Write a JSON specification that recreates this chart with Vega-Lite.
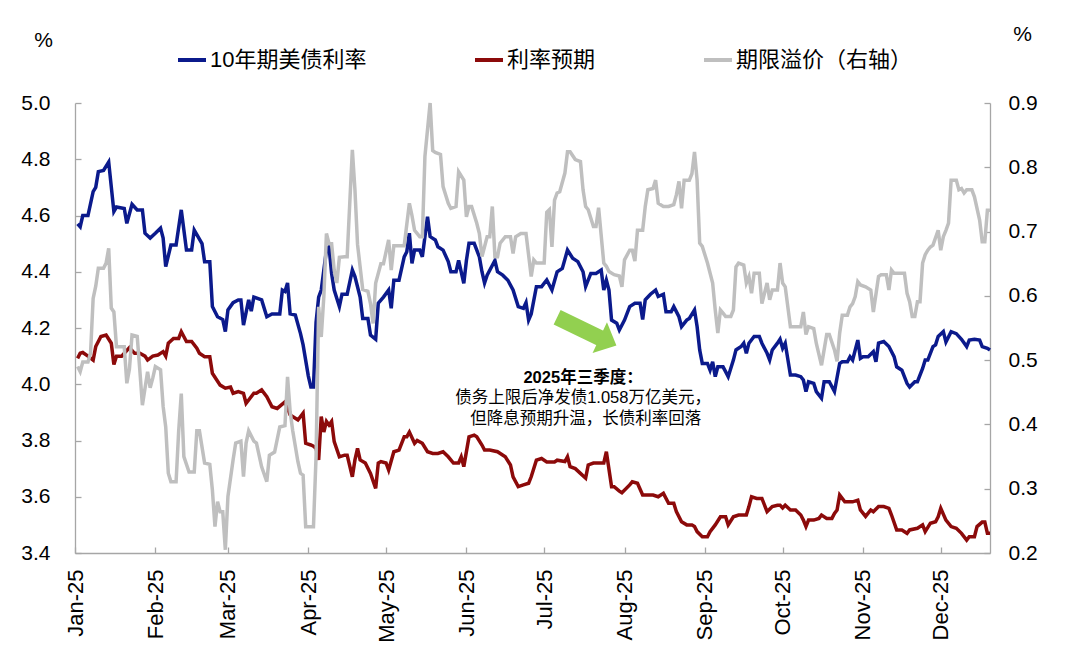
{
"$schema": "https://vega.github.io/schema/vega-lite/v6.json",
"width": 915,
"height": 450,
"autosize": {"type": "none"},
"padding": {"left": 75, "top": 103, "right": 90, "bottom": 100},
"background": "white",
"config": {
  "font": "Liberation Sans, Noto Sans CJK SC",
  "view": {"stroke": null},
  "axis": {"domainColor": "#A6A6A6", "domainWidth": 1.3, "tickColor": "#A6A6A6", "tickWidth": 1.3, "tickSize": -6, "grid": false, "labelColor": "#000000", "labelFont": "Liberation Sans", "titleFont": "Liberation Sans", "titleColor": "#000000", "titleFontWeight": "normal"}
},
"datasets": {
"y10": [
{"d":"2025-01-02","v":4.57},{"d":"2025-01-03","v":4.56},{"d":"2025-01-04","v":4.60},{"d":"2025-01-06","v":4.60},{"d":"2025-01-08","v":4.685},{"d":"2025-01-09","v":4.70},{"d":"2025-01-10","v":4.756},{"d":"2025-01-12","v":4.76},{"d":"2025-01-14","v":4.79},{"d":"2025-01-16","v":4.614},{"d":"2025-01-17","v":4.63},{"d":"2025-01-20","v":4.625},{"d":"2025-01-21","v":4.572},{"d":"2025-01-23","v":4.64},{"d":"2025-01-25","v":4.62},{"d":"2025-01-27","v":4.62},{"d":"2025-01-28","v":4.537},{"d":"2025-01-30","v":4.52},
{"d":"2025-02-01","v":4.537},{"d":"2025-02-03","v":4.555},{"d":"2025-02-04","v":4.52},{"d":"2025-02-05","v":4.418},{"d":"2025-02-07","v":4.495},{"d":"2025-02-09","v":4.495},{"d":"2025-02-11","v":4.62},{"d":"2025-02-13","v":4.477},{"d":"2025-02-15","v":4.477},{"d":"2025-02-16","v":4.548},{"d":"2025-02-19","v":4.50},{"d":"2025-02-20","v":4.436},{"d":"2025-02-22","v":4.436},{"d":"2025-02-23","v":4.276},{"d":"2025-02-25","v":4.24},{"d":"2025-02-27","v":4.23},{"d":"2025-02-28","v":4.187},
{"d":"2025-03-01","v":4.264},{"d":"2025-03-03","v":4.29},{"d":"2025-03-05","v":4.30},{"d":"2025-03-06","v":4.30},{"d":"2025-03-07","v":4.21},{"d":"2025-03-09","v":4.30},{"d":"2025-03-10","v":4.26},{"d":"2025-03-11","v":4.31},{"d":"2025-03-14","v":4.30},{"d":"2025-03-16","v":4.24},{"d":"2025-03-18","v":4.25},{"d":"2025-03-21","v":4.25},{"d":"2025-03-22","v":4.335},{"d":"2025-03-23","v":4.33},{"d":"2025-03-24","v":4.36},{"d":"2025-03-25","v":4.25},{"d":"2025-03-27","v":4.246},{"d":"2025-03-29","v":4.18},{"d":"2025-03-30","v":4.14},
{"d":"2025-04-01","v":4.03},{"d":"2025-04-02","v":3.99},{"d":"2025-04-03","v":3.99},{"d":"2025-04-04","v":4.22},{"d":"2025-04-05","v":4.31},{"d":"2025-04-06","v":4.335},{"d":"2025-04-08","v":4.477},{"d":"2025-04-09","v":4.489},{"d":"2025-04-10","v":4.394},{"d":"2025-04-11","v":4.335},{"d":"2025-04-13","v":4.276},{"d":"2025-04-14","v":4.32},{"d":"2025-04-16","v":4.32},{"d":"2025-04-18","v":4.406},{"d":"2025-04-19","v":4.383},{"d":"2025-04-21","v":4.31},{"d":"2025-04-22","v":4.234},{"d":"2025-04-24","v":4.234},{"d":"2025-04-25","v":4.175},{"d":"2025-04-27","v":4.16},{"d":"2025-04-28","v":4.288},{"d":"2025-04-30","v":4.31},
{"d":"2025-05-02","v":4.335},{"d":"2025-05-03","v":4.27},{"d":"2025-05-04","v":4.37},{"d":"2025-05-06","v":4.37},{"d":"2025-05-08","v":4.453},{"d":"2025-05-09","v":4.471},{"d":"2025-05-10","v":4.537},{"d":"2025-05-11","v":4.43},{"d":"2025-05-12","v":4.477},{"d":"2025-05-14","v":4.477},{"d":"2025-05-15","v":4.453},{"d":"2025-05-17","v":4.596},{"d":"2025-05-18","v":4.525},{"d":"2025-05-20","v":4.513},{"d":"2025-05-21","v":4.489},{"d":"2025-05-23","v":4.477},{"d":"2025-05-25","v":4.436},{"d":"2025-05-26","v":4.40},{"d":"2025-05-28","v":4.40},{"d":"2025-05-29","v":4.44},{"d":"2025-05-31","v":4.359},
{"d":"2025-06-01","v":4.44},{"d":"2025-06-02","v":4.501},{"d":"2025-06-04","v":4.501},{"d":"2025-06-06","v":4.453},{"d":"2025-06-07","v":4.40},{"d":"2025-06-08","v":4.36},{"d":"2025-06-09","v":4.388},{"d":"2025-06-12","v":4.44},{"d":"2025-06-13","v":4.40},{"d":"2025-06-15","v":4.388},{"d":"2025-06-17","v":4.37},{"d":"2025-06-19","v":4.335},{"d":"2025-06-21","v":4.276},{"d":"2025-06-23","v":4.27},{"d":"2025-06-24","v":4.29},{"d":"2025-06-25","v":4.228},{"d":"2025-06-26","v":4.25},{"d":"2025-06-28","v":4.347},{"d":"2025-06-30","v":4.347},
{"d":"2025-07-02","v":4.371},{"d":"2025-07-04","v":4.335},{"d":"2025-07-06","v":4.40},{"d":"2025-07-08","v":4.412},{"d":"2025-07-10","v":4.477},{"d":"2025-07-12","v":4.448},{"d":"2025-07-14","v":4.436},{"d":"2025-07-16","v":4.40},{"d":"2025-07-17","v":4.347},{"d":"2025-07-19","v":4.394},{"d":"2025-07-21","v":4.394},{"d":"2025-07-23","v":4.406},{"d":"2025-07-24","v":4.335},{"d":"2025-07-25","v":4.37},{"d":"2025-07-26","v":4.335},{"d":"2025-07-27","v":4.228},{"d":"2025-07-29","v":4.217},{"d":"2025-07-30","v":4.193},
{"d":"2025-08-01","v":4.228},{"d":"2025-08-03","v":4.276},{"d":"2025-08-05","v":4.288},{"d":"2025-08-07","v":4.288},{"d":"2025-08-08","v":4.23},{"d":"2025-08-09","v":4.30},{"d":"2025-08-11","v":4.32},{"d":"2025-08-13","v":4.335},{"d":"2025-08-14","v":4.312},{"d":"2025-08-16","v":4.32},{"d":"2025-08-17","v":4.258},{"d":"2025-08-19","v":4.258},{"d":"2025-08-20","v":4.276},{"d":"2025-08-22","v":4.24},{"d":"2025-08-23","v":4.205},{"d":"2025-08-25","v":4.228},{"d":"2025-08-26","v":4.234},{"d":"2025-08-28","v":4.264},{"d":"2025-08-29","v":4.205},{"d":"2025-08-30","v":4.122},{"d":"2025-08-31","v":4.074},
{"d":"2025-09-02","v":4.074},{"d":"2025-09-03","v":4.05},{"d":"2025-09-04","v":4.08},{"d":"2025-09-05","v":4.027},{"d":"2025-09-06","v":4.062},{"d":"2025-09-08","v":4.062},{"d":"2025-09-09","v":4.045},{"d":"2025-09-10","v":4.027},{"d":"2025-09-12","v":4.086},{"d":"2025-09-13","v":4.122},{"d":"2025-09-15","v":4.134},{"d":"2025-09-16","v":4.146},{"d":"2025-09-17","v":4.11},{"d":"2025-09-18","v":4.146},{"d":"2025-09-20","v":4.17},{"d":"2025-09-22","v":4.17},{"d":"2025-09-23","v":4.146},{"d":"2025-09-25","v":4.11},{"d":"2025-09-26","v":4.086},{"d":"2025-09-27","v":4.122},{"d":"2025-09-29","v":4.146},{"d":"2025-09-30","v":4.16},
{"d":"2025-10-01","v":4.128},{"d":"2025-10-02","v":4.146},{"d":"2025-10-04","v":4.033},{"d":"2025-10-06","v":4.033},{"d":"2025-10-08","v":4.027},{"d":"2025-10-09","v":4.015},{"d":"2025-10-10","v":3.974},{"d":"2025-10-11","v":4.009},{"d":"2025-10-13","v":4.003},{"d":"2025-10-14","v":3.974},{"d":"2025-10-16","v":3.95},{"d":"2025-10-17","v":4.009},{"d":"2025-10-19","v":4.009},{"d":"2025-10-21","v":3.974},{"d":"2025-10-23","v":4.074},{"d":"2025-10-24","v":4.08},{"d":"2025-10-26","v":4.08},{"d":"2025-10-27","v":4.098},{"d":"2025-10-28","v":4.086},{"d":"2025-10-30","v":4.157},{"d":"2025-10-31","v":4.092},
{"d":"2025-11-01","v":4.098},{"d":"2025-11-03","v":4.098},{"d":"2025-11-05","v":4.116},{"d":"2025-11-06","v":4.08},{"d":"2025-11-07","v":4.146},{"d":"2025-11-09","v":4.152},{"d":"2025-11-11","v":4.134},{"d":"2025-11-13","v":4.098},{"d":"2025-11-14","v":4.062},{"d":"2025-11-16","v":4.05},{"d":"2025-11-18","v":4.003},{"d":"2025-11-19","v":3.99},{"d":"2025-11-21","v":4.009},{"d":"2025-11-22","v":4.009},{"d":"2025-11-24","v":4.056},{"d":"2025-11-25","v":4.086},{"d":"2025-11-26","v":4.086},{"d":"2025-11-28","v":4.134},{"d":"2025-11-29","v":4.14},{"d":"2025-11-30","v":4.17},
{"d":"2025-12-02","v":4.187},{"d":"2025-12-03","v":4.15},{"d":"2025-12-05","v":4.187},{"d":"2025-12-07","v":4.18},{"d":"2025-12-09","v":4.16},{"d":"2025-12-11","v":4.134},{"d":"2025-12-12","v":4.157},{"d":"2025-12-14","v":4.16},{"d":"2025-12-16","v":4.157},{"d":"2025-12-17","v":4.134},{"d":"2025-12-19","v":4.128},{"d":"2025-12-20","v":4.122}
],
"exp": [
{"d":"2025-01-02","v":4.092},{"d":"2025-01-03","v":4.11},{"d":"2025-01-04","v":4.113},{"d":"2025-01-06","v":4.10},{"d":"2025-01-08","v":4.086},{"d":"2025-01-09","v":4.134},{"d":"2025-01-11","v":4.17},{"d":"2025-01-13","v":4.175},{"d":"2025-01-15","v":4.146},{"d":"2025-01-16","v":4.07},{"d":"2025-01-17","v":4.10},{"d":"2025-01-19","v":4.10},{"d":"2025-01-22","v":4.13},{"d":"2025-01-24","v":4.11},{"d":"2025-01-26","v":4.11},{"d":"2025-01-28","v":4.10},{"d":"2025-01-29","v":4.086},{"d":"2025-01-31","v":4.10},
{"d":"2025-02-02","v":4.104},{"d":"2025-02-04","v":4.116},{"d":"2025-02-05","v":4.10},{"d":"2025-02-06","v":4.146},{"d":"2025-02-08","v":4.163},{"d":"2025-02-10","v":4.163},{"d":"2025-02-11","v":4.187},{"d":"2025-02-13","v":4.152},{"d":"2025-02-15","v":4.152},{"d":"2025-02-17","v":4.128},{"d":"2025-02-18","v":4.11},{"d":"2025-02-20","v":4.098},{"d":"2025-02-22","v":4.098},{"d":"2025-02-23","v":4.039},{"d":"2025-02-26","v":3.997},{"d":"2025-02-28","v":3.986},
{"d":"2025-03-02","v":3.99},{"d":"2025-03-03","v":3.968},{"d":"2025-03-05","v":3.974},{"d":"2025-03-07","v":3.968},{"d":"2025-03-08","v":3.932},{"d":"2025-03-09","v":3.944},{"d":"2025-03-11","v":3.968},{"d":"2025-03-12","v":3.968},{"d":"2025-03-14","v":3.98},{"d":"2025-03-16","v":3.956},{"d":"2025-03-18","v":3.92},{"d":"2025-03-20","v":3.914},{"d":"2025-03-23","v":3.937},{"d":"2025-03-25","v":3.891},{"d":"2025-03-27","v":3.879},{"d":"2025-03-28","v":3.873},{"d":"2025-03-30","v":3.897},{"d":"2025-03-31","v":3.79},
{"d":"2025-04-02","v":3.784},{"d":"2025-04-03","v":3.78},{"d":"2025-04-04","v":3.772},{"d":"2025-04-05","v":3.731},{"d":"2025-04-06","v":3.885},{"d":"2025-04-07","v":3.83},{"d":"2025-04-08","v":3.868},{"d":"2025-04-09","v":3.855},{"d":"2025-04-10","v":3.868},{"d":"2025-04-11","v":3.796},{"d":"2025-04-13","v":3.742},{"d":"2025-04-15","v":3.748},{"d":"2025-04-16","v":3.748},{"d":"2025-04-18","v":3.671},{"d":"2025-04-19","v":3.731},{"d":"2025-04-20","v":3.772},{"d":"2025-04-21","v":3.731},{"d":"2025-04-23","v":3.72},{"d":"2025-04-25","v":3.683},{"d":"2025-04-27","v":3.63},{"d":"2025-04-28","v":3.72},{"d":"2025-04-29","v":3.725},
{"d":"2025-05-01","v":3.72},{"d":"2025-05-02","v":3.695},{"d":"2025-05-04","v":3.76},{"d":"2025-05-06","v":3.766},{"d":"2025-05-08","v":3.813},{"d":"2025-05-09","v":3.813},{"d":"2025-05-10","v":3.83},{"d":"2025-05-12","v":3.79},{"d":"2025-05-13","v":3.80},{"d":"2025-05-15","v":3.79},{"d":"2025-05-17","v":3.76},{"d":"2025-05-19","v":3.754},{"d":"2025-05-21","v":3.754},{"d":"2025-05-23","v":3.76},{"d":"2025-05-25","v":3.742},{"d":"2025-05-27","v":3.72},{"d":"2025-05-29","v":3.72},{"d":"2025-05-30","v":3.742},{"d":"2025-05-31","v":3.707},
{"d":"2025-06-02","v":3.813},{"d":"2025-06-04","v":3.819},{"d":"2025-06-05","v":3.813},{"d":"2025-06-07","v":3.784},{"d":"2025-06-08","v":3.766},{"d":"2025-06-10","v":3.766},{"d":"2025-06-13","v":3.76},{"d":"2025-06-16","v":3.742},{"d":"2025-06-18","v":3.713},{"d":"2025-06-19","v":3.671},{"d":"2025-06-21","v":3.636},{"d":"2025-06-23","v":3.642},{"d":"2025-06-25","v":3.648},{"d":"2025-06-26","v":3.671},{"d":"2025-06-28","v":3.73},{"d":"2025-06-30","v":3.736},
{"d":"2025-07-02","v":3.724},{"d":"2025-07-05","v":3.724},{"d":"2025-07-06","v":3.73},{"d":"2025-07-09","v":3.725},{"d":"2025-07-10","v":3.742},{"d":"2025-07-11","v":3.707},{"d":"2025-07-13","v":3.70},{"d":"2025-07-15","v":3.683},{"d":"2025-07-17","v":3.666},{"d":"2025-07-18","v":3.713},{"d":"2025-07-20","v":3.72},{"d":"2025-07-22","v":3.72},{"d":"2025-07-24","v":3.72},{"d":"2025-07-25","v":3.76},{"d":"2025-07-27","v":3.636},{"d":"2025-07-28","v":3.636},{"d":"2025-07-30","v":3.62},{"d":"2025-07-31","v":3.614},
{"d":"2025-08-03","v":3.642},{"d":"2025-08-04","v":3.653},{"d":"2025-08-06","v":3.648},{"d":"2025-08-08","v":3.606},{"d":"2025-08-10","v":3.606},{"d":"2025-08-12","v":3.606},{"d":"2025-08-14","v":3.60},{"d":"2025-08-16","v":3.612},{"d":"2025-08-18","v":3.577},{"d":"2025-08-20","v":3.577},{"d":"2025-08-21","v":3.547},{"d":"2025-08-23","v":3.511},{"d":"2025-08-25","v":3.50},{"d":"2025-08-27","v":3.50},{"d":"2025-08-28","v":3.494},{"d":"2025-08-29","v":3.476},{"d":"2025-08-31","v":3.458},
{"d":"2025-09-02","v":3.458},{"d":"2025-09-03","v":3.476},{"d":"2025-09-05","v":3.50},{"d":"2025-09-07","v":3.529},{"d":"2025-09-09","v":3.529},{"d":"2025-09-10","v":3.50},{"d":"2025-09-12","v":3.529},{"d":"2025-09-14","v":3.535},{"d":"2025-09-17","v":3.535},{"d":"2025-09-18","v":3.565},{"d":"2025-09-19","v":3.60},{"d":"2025-09-21","v":3.594},{"d":"2025-09-23","v":3.594},{"d":"2025-09-25","v":3.547},{"d":"2025-09-27","v":3.565},{"d":"2025-09-29","v":3.57},{"d":"2025-09-30","v":3.57},
{"d":"2025-10-01","v":3.56},{"d":"2025-10-02","v":3.57},{"d":"2025-10-04","v":3.553},{"d":"2025-10-06","v":3.553},{"d":"2025-10-08","v":3.535},{"d":"2025-10-09","v":3.517},{"d":"2025-10-10","v":3.494},{"d":"2025-10-11","v":3.517},{"d":"2025-10-13","v":3.517},{"d":"2025-10-15","v":3.523},{"d":"2025-10-16","v":3.535},{"d":"2025-10-18","v":3.523},{"d":"2025-10-20","v":3.523},{"d":"2025-10-21","v":3.541},{"d":"2025-10-22","v":3.553},{"d":"2025-10-23","v":3.606},{"d":"2025-10-25","v":3.582},{"d":"2025-10-28","v":3.582},{"d":"2025-10-30","v":3.588},{"d":"2025-10-31","v":3.553},
{"d":"2025-11-02","v":3.53},{"d":"2025-11-04","v":3.553},{"d":"2025-11-05","v":3.547},{"d":"2025-11-07","v":3.565},{"d":"2025-11-09","v":3.565},{"d":"2025-11-11","v":3.559},{"d":"2025-11-12","v":3.535},{"d":"2025-11-14","v":3.482},{"d":"2025-11-16","v":3.482},{"d":"2025-11-18","v":3.47},{"d":"2025-11-19","v":3.482},{"d":"2025-11-22","v":3.488},{"d":"2025-11-24","v":3.50},{"d":"2025-11-25","v":3.476},{"d":"2025-11-27","v":3.506},{"d":"2025-11-29","v":3.511},{"d":"2025-11-30","v":3.529},
{"d":"2025-12-01","v":3.559},{"d":"2025-12-03","v":3.517},{"d":"2025-12-05","v":3.494},{"d":"2025-12-07","v":3.488},{"d":"2025-12-09","v":3.47},{"d":"2025-12-11","v":3.446},{"d":"2025-12-12","v":3.458},{"d":"2025-12-14","v":3.458},{"d":"2025-12-15","v":3.494},{"d":"2025-12-17","v":3.51},{"d":"2025-12-18","v":3.51},{"d":"2025-12-19","v":3.47},{"d":"2025-12-20","v":3.47}
],
"tp": [
{"d":"2025-01-02","v":0.49},{"d":"2025-01-03","v":0.482},{"d":"2025-01-04","v":0.497},{"d":"2025-01-06","v":0.497},{"d":"2025-01-07","v":0.511},{"d":"2025-01-08","v":0.596},{"d":"2025-01-09","v":0.615},{"d":"2025-01-10","v":0.643},{"d":"2025-01-12","v":0.643},{"d":"2025-01-13","v":0.651},{"d":"2025-01-14","v":0.674},{"d":"2025-01-15","v":0.581},{"d":"2025-01-16","v":0.575},{"d":"2025-01-17","v":0.521},{"d":"2025-01-19","v":0.521},{"d":"2025-01-20","v":0.521},{"d":"2025-01-21","v":0.464},{"d":"2025-01-22","v":0.486},{"d":"2025-01-23","v":0.539},{"d":"2025-01-25","v":0.537},{"d":"2025-01-26","v":0.485},{"d":"2025-01-27","v":0.43},{"d":"2025-01-29","v":0.482},{"d":"2025-01-30","v":0.457},{"d":"2025-01-31","v":0.472},
{"d":"2025-02-01","v":0.49},{"d":"2025-02-03","v":0.485},{"d":"2025-02-04","v":0.428},{"d":"2025-02-05","v":0.396},{"d":"2025-02-06","v":0.324},{"d":"2025-02-07","v":0.311},{"d":"2025-02-09","v":0.311},{"d":"2025-02-10","v":0.39},{"d":"2025-02-11","v":0.448},{"d":"2025-02-12","v":0.35},{"d":"2025-02-14","v":0.326},{"d":"2025-02-16","v":0.326},{"d":"2025-02-17","v":0.39},{"d":"2025-02-18","v":0.39},{"d":"2025-02-20","v":0.34},{"d":"2025-02-22","v":0.338},{"d":"2025-02-23","v":0.298},{"d":"2025-02-24","v":0.241},{"d":"2025-02-25","v":0.28},{"d":"2025-02-26","v":0.264},{"d":"2025-02-27","v":0.264},{"d":"2025-02-28","v":0.205},
{"d":"2025-03-01","v":0.288},{"d":"2025-03-03","v":0.345},{"d":"2025-03-04","v":0.371},{"d":"2025-03-06","v":0.374},{"d":"2025-03-07","v":0.319},{"d":"2025-03-08","v":0.371},{"d":"2025-03-09","v":0.39},{"d":"2025-03-11","v":0.374},{"d":"2025-03-12","v":0.371},{"d":"2025-03-14","v":0.334},{"d":"2025-03-16","v":0.311},{"d":"2025-03-17","v":0.352},{"d":"2025-03-19","v":0.357},{"d":"2025-03-21","v":0.396},{"d":"2025-03-23","v":0.398},{"d":"2025-03-24","v":0.474},{"d":"2025-03-25","v":0.42},{"d":"2025-03-26","v":0.39},{"d":"2025-03-28","v":0.342},{"d":"2025-03-29","v":0.324},{"d":"2025-03-30","v":0.321},{"d":"2025-03-31","v":0.241},
{"d":"2025-04-01","v":0.241},{"d":"2025-04-03","v":0.241},{"d":"2025-04-04","v":0.35},{"d":"2025-04-05","v":0.583},{"d":"2025-04-06","v":0.536},{"d":"2025-04-07","v":0.599},{"d":"2025-04-08","v":0.697},{"d":"2025-04-09","v":0.681},{"d":"2025-04-10","v":0.681},{"d":"2025-04-11","v":0.64},{"d":"2025-04-12","v":0.62},{"d":"2025-04-13","v":0.66},{"d":"2025-04-15","v":0.661},{"d":"2025-04-16","v":0.661},{"d":"2025-04-18","v":0.827},{"d":"2025-04-19","v":0.765},{"d":"2025-04-20","v":0.68},{"d":"2025-04-22","v":0.61},{"d":"2025-04-24","v":0.607},{"d":"2025-04-25","v":0.588},{"d":"2025-04-26","v":0.557},{"d":"2025-04-27","v":0.62},{"d":"2025-04-29","v":0.65},{"d":"2025-04-30","v":0.65},
{"d":"2025-05-02","v":0.687},{"d":"2025-05-03","v":0.64},{"d":"2025-05-04","v":0.678},{"d":"2025-05-06","v":0.678},{"d":"2025-05-08","v":0.678},{"d":"2025-05-10","v":0.744},{"d":"2025-05-11","v":0.725},{"d":"2025-05-12","v":0.702},{"d":"2025-05-14","v":0.692},{"d":"2025-05-15","v":0.692},{"d":"2025-05-16","v":0.817},{"d":"2025-05-18","v":0.90},{"d":"2025-05-19","v":0.826},{"d":"2025-05-20","v":0.823},{"d":"2025-05-22","v":0.82},{"d":"2025-05-23","v":0.77},{"d":"2025-05-25","v":0.744},{"d":"2025-05-26","v":0.736},{"d":"2025-05-28","v":0.739},{"d":"2025-05-29","v":0.793},{"d":"2025-05-31","v":0.78},
{"d":"2025-06-01","v":0.723},{"d":"2025-06-02","v":0.739},{"d":"2025-06-03","v":0.739},{"d":"2025-06-05","v":0.713},{"d":"2025-06-06","v":0.697},{"d":"2025-06-07","v":0.661},{"d":"2025-06-09","v":0.692},{"d":"2025-06-10","v":0.692},{"d":"2025-06-11","v":0.739},{"d":"2025-06-12","v":0.661},{"d":"2025-06-13","v":0.661},{"d":"2025-06-14","v":0.682},{"d":"2025-06-16","v":0.692},{"d":"2025-06-18","v":0.692},{"d":"2025-06-19","v":0.666},{"d":"2025-06-20","v":0.692},{"d":"2025-06-22","v":0.697},{"d":"2025-06-24","v":0.697},{"d":"2025-06-26","v":0.63},{"d":"2025-06-27","v":0.656},{"d":"2025-06-28","v":0.651},{"d":"2025-06-29","v":0.651},
{"d":"2025-07-01","v":0.651},{"d":"2025-07-02","v":0.73},{"d":"2025-07-03","v":0.734},{"d":"2025-07-04","v":0.676},{"d":"2025-07-05","v":0.749},{"d":"2025-07-06","v":0.76},{"d":"2025-07-07","v":0.762},{"d":"2025-07-09","v":0.791},{"d":"2025-07-10","v":0.824},{"d":"2025-07-11","v":0.824},{"d":"2025-07-13","v":0.812},{"d":"2025-07-15","v":0.809},{"d":"2025-07-16","v":0.765},{"d":"2025-07-17","v":0.739},{"d":"2025-07-18","v":0.734},{"d":"2025-07-20","v":0.708},{"d":"2025-07-21","v":0.708},{"d":"2025-07-22","v":0.737},{"d":"2025-07-24","v":0.651},{"d":"2025-07-25","v":0.646},{"d":"2025-07-26","v":0.638},{"d":"2025-07-28","v":0.633},{"d":"2025-07-30","v":0.631},{"d":"2025-07-31","v":0.614},
{"d":"2025-08-01","v":0.656},{"d":"2025-08-03","v":0.671},{"d":"2025-08-04","v":0.671},{"d":"2025-08-05","v":0.654},{"d":"2025-08-06","v":0.702},{"d":"2025-08-08","v":0.702},{"d":"2025-08-09","v":0.739},{"d":"2025-08-10","v":0.765},{"d":"2025-08-12","v":0.767},{"d":"2025-08-13","v":0.78},{"d":"2025-08-14","v":0.744},{"d":"2025-08-16","v":0.739},{"d":"2025-08-18","v":0.739},{"d":"2025-08-20","v":0.742},{"d":"2025-08-21","v":0.757},{"d":"2025-08-22","v":0.778},{"d":"2025-08-23","v":0.736},{"d":"2025-08-24","v":0.78},{"d":"2025-08-25","v":0.78},{"d":"2025-08-26","v":0.78},{"d":"2025-08-27","v":0.79},{"d":"2025-08-28","v":0.824},{"d":"2025-08-29","v":0.78},{"d":"2025-08-30","v":0.682},{"d":"2025-08-31","v":0.677},
{"d":"2025-09-02","v":0.651},{"d":"2025-09-04","v":0.62},{"d":"2025-09-05","v":0.578},{"d":"2025-09-06","v":0.542},{"d":"2025-09-07","v":0.578},{"d":"2025-09-08","v":0.573},{"d":"2025-09-09","v":0.568},{"d":"2025-09-11","v":0.568},{"d":"2025-09-12","v":0.578},{"d":"2025-09-13","v":0.645},{"d":"2025-09-14","v":0.651},{"d":"2025-09-16","v":0.648},{"d":"2025-09-17","v":0.62},{"d":"2025-09-18","v":0.63},{"d":"2025-09-19","v":0.604},{"d":"2025-09-20","v":0.635},{"d":"2025-09-22","v":0.635},{"d":"2025-09-23","v":0.588},{"d":"2025-09-25","v":0.62},{"d":"2025-09-26","v":0.594},{"d":"2025-09-27","v":0.609},{"d":"2025-09-29","v":0.609},{"d":"2025-09-30","v":0.651},
{"d":"2025-10-01","v":0.62},{"d":"2025-10-02","v":0.614},{"d":"2025-10-04","v":0.552},{"d":"2025-10-06","v":0.552},{"d":"2025-10-08","v":0.552},{"d":"2025-10-09","v":0.575},{"d":"2025-10-10","v":0.54},{"d":"2025-10-11","v":0.552},{"d":"2025-10-13","v":0.549},{"d":"2025-10-14","v":0.526},{"d":"2025-10-16","v":0.492},{"d":"2025-10-17","v":0.516},{"d":"2025-10-18","v":0.54},{"d":"2025-10-19","v":0.54},{"d":"2025-10-21","v":0.516},{"d":"2025-10-22","v":0.498},{"d":"2025-10-23","v":0.542},{"d":"2025-10-24","v":0.57},{"d":"2025-10-26","v":0.57},{"d":"2025-10-27","v":0.583},{"d":"2025-10-28","v":0.588},{"d":"2025-10-29","v":0.599},{"d":"2025-10-30","v":0.622},{"d":"2025-10-31","v":0.617},
{"d":"2025-11-02","v":0.614},{"d":"2025-11-04","v":0.609},{"d":"2025-11-05","v":0.575},{"d":"2025-11-07","v":0.63},{"d":"2025-11-08","v":0.633},{"d":"2025-11-10","v":0.633},{"d":"2025-11-11","v":0.609},{"d":"2025-11-12","v":0.64},{"d":"2025-11-13","v":0.635},{"d":"2025-11-15","v":0.635},{"d":"2025-11-17","v":0.635},{"d":"2025-11-18","v":0.604},{"d":"2025-11-19","v":0.591},{"d":"2025-11-20","v":0.568},{"d":"2025-11-21","v":0.568},{"d":"2025-11-22","v":0.591},{"d":"2025-11-23","v":0.591},{"d":"2025-11-24","v":0.651},{"d":"2025-11-25","v":0.664},{"d":"2025-11-26","v":0.671},{"d":"2025-11-27","v":0.676},{"d":"2025-11-28","v":0.679},{"d":"2025-11-30","v":0.702},
{"d":"2025-12-01","v":0.671},{"d":"2025-12-02","v":0.692},{"d":"2025-12-03","v":0.702},{"d":"2025-12-04","v":0.713},{"d":"2025-12-05","v":0.78},{"d":"2025-12-07","v":0.78},{"d":"2025-12-08","v":0.765},{"d":"2025-12-09","v":0.767},{"d":"2025-12-10","v":0.76},{"d":"2025-12-11","v":0.765},{"d":"2025-12-13","v":0.765},{"d":"2025-12-14","v":0.754},{"d":"2025-12-16","v":0.718},{"d":"2025-12-17","v":0.684},{"d":"2025-12-18","v":0.684},{"d":"2025-12-19","v":0.733},{"d":"2025-12-20","v":0.733}
],
"one": [{"k": 1}]
},
"layer": [
  {
    "layer": [
      {
        "data": {"name": "exp"},
        "mark": {"type": "line", "strokeWidth": 3.5},
        "encoding": {
          "x": {"field": "d", "type": "temporal", "title": null,
            "scale": {"type": "utc", "domain": [{"year": 2025, "month": 1, "date": 1, "utc": true}, {"year": 2025, "month": 12, "date": 20, "utc": true}]},
            "axis": {"format": "%b-%y", "tickCount": {"interval": "month", "step": 1}, "labelAngle": 270, "labelAlign": "right", "labelBaseline": "middle", "labelFontSize": 22, "labelPadding": 22, "labelFlush": false, "labelOverlap": false}},
          "y": {"field": "v", "type": "quantitative",
            "scale": {"domain": [3.4, 5.0], "nice": false, "zero": false},
            "axis": {"values": [3.4, 3.6, 3.8, 4.0, 4.2, 4.4, 4.6, 4.8, 5.0], "format": ".1f", "labelFontSize": 21, "labelPadding": 31, "title": "%", "titleAngle": 0, "titleFontSize": 21, "titleX": -32, "titleY": -63, "titleAlign": "center", "titleBaseline": "middle"}},
          "color": {"datum": "利率预期"}
        }
      },
      {
        "data": {"name": "y10"},
        "mark": {"type": "line", "strokeWidth": 3.5},
        "encoding": {
          "x": {"field": "d", "type": "temporal", "title": null},
          "y": {"field": "v", "type": "quantitative", "title": "%"},
          "color": {"datum": "10年期美债利率", "scale": {"domain": ["10年期美债利率", "利率预期", "期限溢价（右轴）"], "range": ["#0B1A8C", "#8C0A0A", "#BFBFBF"]},
          "legend": {"orient": "none", "legendX": 101, "legendY": -59, "direction": "horizontal", "title": null, "symbolType": "stroke", "symbolSize": 784, "symbolStrokeWidth": 4, "labelFontSize": 22, "labelFont": "Liberation Sans, Noto Sans CJK SC", "labelColor": "#000000", "labelOffset": 2, "columnPadding": 100, "labelLimit": 400, "padding": 0}}
        }
      },
      {
        "data": {"name": "one"},
        "mark": {"type": "rule", "color": "#92D050", "strokeWidth": 16, "strokeCap": "butt"},
        "encoding": {
          "x": {"datum": {"year": 2025, "month": 7, "date": 6, "utc": true}, "type": "temporal"},
          "x2": {"datum": {"year": 2025, "month": 7, "date": 23, "hours": 8, "utc": true}},
          "y": {"datum": 4.238, "type": "quantitative"},
          "y2": {"datum": 4.161}
        }
      },
      {
        "data": {"name": "one"},
        "mark": {"type": "point", "shape": "M-0.54,-1L0.54,0L-0.54,1Z", "size": 1156, "angle": 25, "filled": true, "opacity": 1, "color": "#92D050", "strokeWidth": 0},
        "encoding": {
          "x": {"datum": {"year": 2025, "month": 7, "date": 25, "hours": 16, "utc": true}, "type": "temporal"},
          "y": {"datum": 4.152, "type": "quantitative"}
        }
      },
      {
        "data": {"name": "one"},
        "mark": {"type": "text", "text": "2025年三季度：", "fontSize": 16.5, "fontWeight": "bold", "font": "Liberation Sans, Noto Sans CJK SC", "color": "#000000", "align": "center", "baseline": "middle"},
        "encoding": {
          "x": {"datum": {"year": 2025, "month": 7, "date": 16, "utc": true}, "type": "temporal"},
          "y": {"datum": 4.022, "type": "quantitative"}
        }
      },
      {
        "data": {"name": "one"},
        "mark": {"type": "text", "text": "债务上限后净发债1.058万亿美元，", "fontSize": 16.5, "font": "Liberation Sans, Noto Sans CJK SC", "color": "#000000", "align": "center", "baseline": "middle"},
        "encoding": {
          "x": {"datum": {"year": 2025, "month": 7, "date": 16, "utc": true}, "type": "temporal"},
          "y": {"datum": 3.951, "type": "quantitative"}
        }
      },
      {
        "data": {"name": "one"},
        "mark": {"type": "text", "text": "但降息预期升温，长债利率回落", "fontSize": 16.5, "font": "Liberation Sans, Noto Sans CJK SC", "color": "#000000", "align": "center", "baseline": "middle"},
        "encoding": {
          "x": {"datum": {"year": 2025, "month": 7, "date": 17, "utc": true}, "type": "temporal"},
          "y": {"datum": 3.876, "type": "quantitative"}
        }
      }
    ]
  },
  {
    "data": {"name": "tp"},
    "mark": {"type": "line", "strokeWidth": 3.5},
    "encoding": {
      "x": {"field": "d", "type": "temporal", "title": null},
      "y": {"field": "v", "type": "quantitative",
        "scale": {"domain": [0.2, 0.9], "nice": false, "zero": false},
        "axis": {"orient": "right", "values": [0.2, 0.3, 0.4, 0.5, 0.6, 0.7, 0.8, 0.9], "format": ".1f", "labelFontSize": 21, "labelPadding": 24, "title": "%", "titleAngle": 0, "titleFontSize": 21, "titleX": 32, "titleY": -69, "titleAlign": "center", "titleBaseline": "middle"}},
      "color": {"datum": "期限溢价（右轴）"}
    }
  }
],
"resolve": {"scale": {"y": "independent"}, "axis": {"y": "independent"}}
}
